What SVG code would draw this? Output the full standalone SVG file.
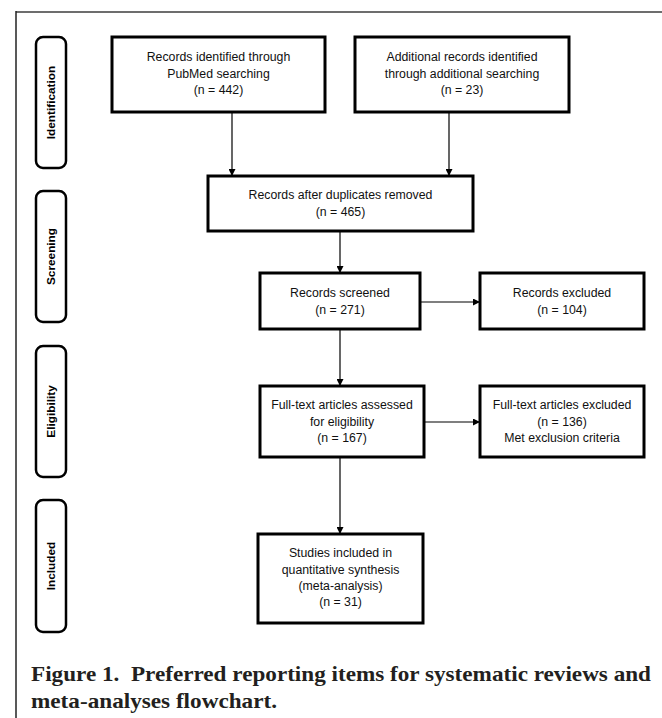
<svg xmlns="http://www.w3.org/2000/svg" width="662" height="718" viewBox="0 0 662 718">
<style>
.box{fill:#fff;stroke:#000;stroke-width:3}
.side{fill:#fff;stroke:#000;stroke-width:2.5}
.t{font-family:"Liberation Sans",Arial,sans-serif;font-size:12.3px;fill:#111;text-anchor:middle}
.s{font-family:"Liberation Sans",Arial,sans-serif;font-size:11.8px;font-weight:bold;fill:#000;text-anchor:middle}
.cap{font-family:"Liberation Serif","Times New Roman",serif;font-size:21px;font-weight:bold;fill:#231f20}
.c{stroke:#000;stroke-width:1.2;fill:none;marker-end:url(#ah)}
</style>
<defs>
<marker id="ah" viewBox="0 0 10 10" refX="10" refY="5" markerWidth="7" markerHeight="7" markerUnits="userSpaceOnUse" orient="auto">
<path d="M0,0 L10,5 L0,10 z" fill="#000"/>
</marker>
</defs>
<rect width="662" height="718" fill="#fff"/>
<line x1="16" y1="12" x2="662" y2="12" stroke="#6d6d6d" stroke-width="2"/>
<line x1="16" y1="11" x2="16" y2="718" stroke="#222" stroke-width="1.5"/>

<g id="side-identification">
<rect class="side" x="36" y="37" width="30" height="131" rx="7"/>
<text class="s" transform="translate(55,102.5) rotate(-90)">Identification</text>
</g>
<g id="side-screening">
<rect class="side" x="36" y="191" width="30" height="131" rx="7"/>
<text class="s" transform="translate(55,256.5) rotate(-90)">Screening</text>
</g>
<g id="side-eligibility">
<rect class="side" x="36" y="346" width="30" height="131" rx="7"/>
<text class="s" transform="translate(55,411.5) rotate(-90)">Eligibility</text>
</g>
<g id="side-included">
<rect class="side" x="36" y="500" width="30" height="132" rx="7"/>
<text class="s" transform="translate(55,566) rotate(-90)">Included</text>
</g>

<g id="connectors">
<line class="c" x1="232" y1="112" x2="232" y2="176"/>
<line class="c" x1="449" y1="112" x2="449" y2="176"/>
<line class="c" x1="340" y1="231" x2="340" y2="273"/>
<line class="c" x1="420" y1="302" x2="480" y2="302"/>
<line class="c" x1="340" y1="329" x2="340" y2="386"/>
<line class="c" x1="424" y1="422" x2="480" y2="422"/>
<line class="c" x1="340" y1="457" x2="340" y2="534"/>
</g>

<g id="n1">
<rect class="box" x="112" y="37" width="213" height="75"/>
<text class="t" x="218.5" y="61">Records identified through</text>
<text class="t" x="218.5" y="77.5">PubMed searching</text>
<text class="t" x="218.5" y="94">(n = 442)</text>
</g>
<g id="n2">
<rect class="box" x="355" y="37" width="214" height="75"/>
<text class="t" x="462" y="61">Additional records identified</text>
<text class="t" x="462" y="77.5">through additional searching</text>
<text class="t" x="462" y="94">(n = 23)</text>
</g>
<g id="n3">
<rect class="box" x="208" y="176" width="265" height="55"/>
<text class="t" x="340.5" y="199">Records after duplicates removed</text>
<text class="t" x="340.5" y="215.5">(n = 465)</text>
</g>
<g id="n4">
<rect class="box" x="260" y="273" width="160" height="56"/>
<text class="t" x="340" y="297">Records screened</text>
<text class="t" x="340" y="313.5">(n = 271)</text>
</g>
<g id="n5">
<rect class="box" x="480" y="273" width="164" height="56"/>
<text class="t" x="562" y="297">Records excluded</text>
<text class="t" x="562" y="313.5">(n = 104)</text>
</g>
<g id="n6">
<rect class="box" x="260" y="386" width="164" height="71"/>
<text class="t" x="342" y="409">Full-text articles assessed</text>
<text class="t" x="342" y="425.5">for eligibility</text>
<text class="t" x="342" y="442">(n = 167)</text>
</g>
<g id="n7">
<rect class="box" x="480" y="386" width="164" height="71"/>
<text class="t" x="562" y="409">Full-text articles excluded</text>
<text class="t" x="562" y="425.5">(n = 136)</text>
<text class="t" x="562" y="442">Met exclusion criteria</text>
</g>
<g id="n8">
<rect class="box" x="258" y="534" width="165" height="89"/>
<text class="t" x="340.5" y="557">Studies included in</text>
<text class="t" x="340.5" y="573.5">quantitative synthesis</text>
<text class="t" x="340.5" y="590">(meta-analysis)</text>
<text class="t" x="340.5" y="606">(n = 31)</text>
</g>

<text class="cap" x="31" y="681" xml:space="preserve" textLength="620" lengthAdjust="spacingAndGlyphs">Figure 1.  Preferred reporting items for systematic reviews and</text>
<text class="cap" x="31" y="708" textLength="246" lengthAdjust="spacingAndGlyphs">meta-analyses flowchart.</text>
</svg>
